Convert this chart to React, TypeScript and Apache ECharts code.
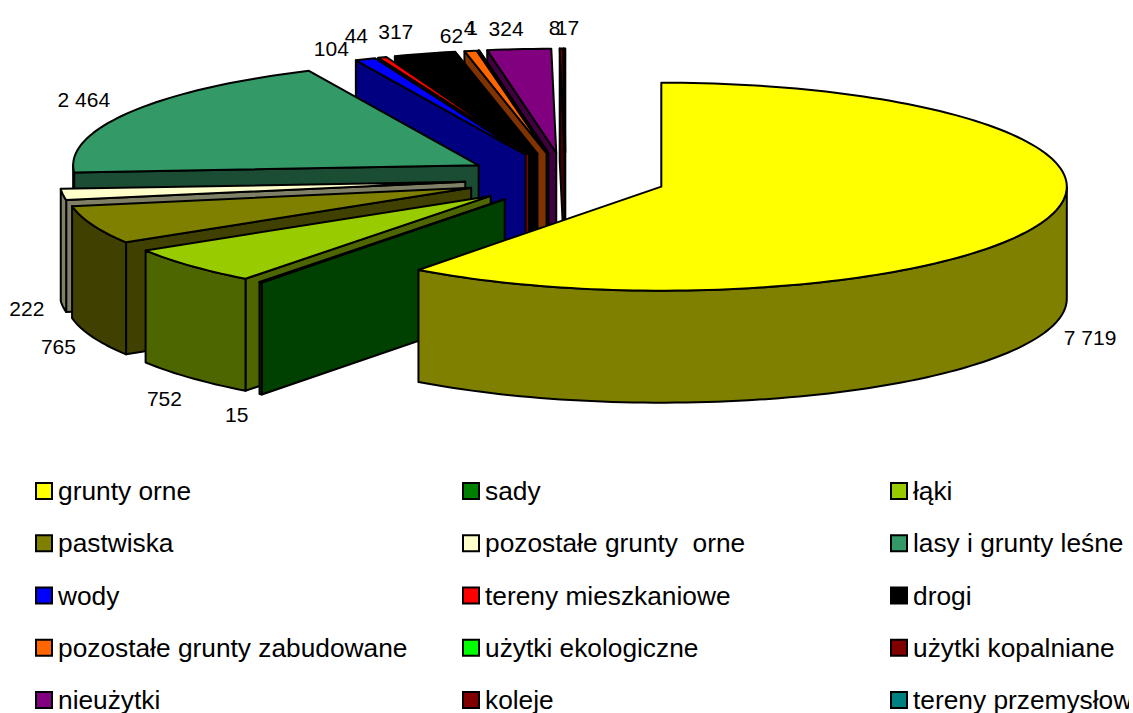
import React, { useEffect, useRef } from "react";
import * as echarts from "echarts";

const categories = [
  "grunty orne", "sady", "łąki", "pastwiska", "pozostałe grunty  orne",
  "lasy i grunty leśne", "wody", "tereny mieszkaniowe", "drogi",
  "pozostałe grunty zabudowane", "użytki ekologiczne", "użytki kopalniane",
  "nieużytki", "koleje", "tereny przemysłowe",
];
const values = [7719, 15, 752, 765, 222, 2464, 104, 44, 317, 62, 4, 1, 324, 17, 8];
const topColors = [
  "#FFFF00", "#008000", "#99CC00", "#808000", "#FFFFCC", "#339966", "#0000FF", "#FF0000",
  "#000000", "#FF6600", "#00FF00", "#800000", "#800080", "#800000", "#008080",
];
const sideColors = [
  "#808000", "#004000", "#4D6600", "#404000", "#808066", "#1A4D33", "#000080", "#800000",
  "#000000", "#803300", "#008000", "#400000", "#400040", "#400000", "#004040",
];
// Label offset from the slice's rim anchor, in pixels
const labelOffsets: number[][] = [
  [44, 6], [-24, 20], [-26, 21], [-34, 10], [-36, 2], [-46, -13], [-34, -11], [-26, -22],
  [-29, -22], [-19, -15], [-9, -23], [-7, -23], [-13, -21], [6, -21], [-10, -21],
];

const CX = 565.5, CY = 178.5, RX = 405.5, RY = 104, DEPTH = 112, EXPLODE = 0.249;
const STROKE = { stroke: "#000", lineWidth: 2, lineJoin: "round" as const };
const total = values.reduce((a, b) => a + b, 0);
const rad = (d: number) => (d * Math.PI) / 180;
const fmt = (v: number) => String(v).replace(/\B(?=(\d{3})+$)/g, " ");

function arc(ax: number, ay: number, from: number, to: number, dy = 0) {
  const n = Math.max(1, Math.ceil((to - from) / 1.5));
  const pts: number[][] = [];
  for (let k = 0; k <= n; k++) {
    const a = rad(from + ((to - from) * k) / n);
    pts.push([ax + RX * Math.sin(a), ay - RY * Math.cos(a) + dy]);
  }
  return pts;
}

function sliceElement(index: number) {
  const before = values.slice(0, index).reduce((a, b) => a + b, 0);
  const s = (before / total) * 360;
  const t = ((before + values[index]) / total) * 360;
  const mid = rad((s + t) / 2);
  const ax = CX + EXPLODE * RX * Math.sin(mid);
  const ay = CY - EXPLODE * RY * Math.cos(mid);
  const children: any[] = [];
  const side = sideColors[index];
  const wall = (deg: number) => {
    const [p] = arc(ax, ay, deg, deg);
    children.push({
      type: "polygon",
      shape: { points: [[ax, ay], p, [p[0], p[1] + DEPTH], [ax, ay + DEPTH]] },
      style: { fill: side, ...STROKE },
    });
  };
  if (s > 180 && s < 360) wall(s);
  if (t > 0 && t < 180) wall(t);
  const f0 = Math.max(s, 90), f1 = Math.min(t, 270);
  if (f1 > f0) {
    const upper = arc(ax, ay, f0, f1);
    const lower = arc(ax, ay, f0, f1, DEPTH).reverse();
    children.push({
      type: "polygon",
      shape: { points: [...upper, ...lower] },
      style: { fill: side, ...STROKE },
    });
  }
  children.push({
    type: "polygon",
    shape: { points: [[ax, ay], ...arc(ax, ay, s, t)] },
    style: { fill: topColors[index], ...STROKE },
  });
  const rimX = ax + RX * Math.sin(mid);
  const rimY = ay - RY * Math.cos(mid) + (Math.cos(mid) < 0 ? DEPTH : 0);
  children.push({
    type: "text",
    style: {
      x: rimX + labelOffsets[index][0],
      y: rimY + labelOffsets[index][1],
      text: fmt(values[index]),
      fill: "#000",
      fontFamily: "Liberation Sans",
      fontSize: 21,
      align: "center",
      verticalAlign: "middle",
    },
  });
  return { type: "group", children };
}

const legendColumns = [35, 462, 890];
const legendRows = [491, 543.2, 595.5, 647.7, 700];

export default function App() {
  const ref = useRef<HTMLDivElement>(null);
  useEffect(() => {
    document.body.style.margin = "0";
    document.body.style.background = "#fff";
    const chart = echarts.init(ref.current!, undefined, { renderer: "svg" });
    chart.setOption({
      animation: false,
      backgroundColor: "#fff",
      legend: categories.map((name, i) => ({
        data: [name],
        left: legendColumns[i % 3],
        top: legendRows[Math.floor(i / 3)] - 15,
        padding: 0,
        icon: "rect",
        itemWidth: 16,
        itemHeight: 16,
        selectedMode: false,
        itemStyle: { borderColor: "#000", borderWidth: 2 },
        textStyle: {
          fontFamily: "Liberation Sans",
          fontSize: 26.3,
          color: "#000",
          lineHeight: 30,
          padding: [0, 0, 0, 1],
        },
      })),
      series: categories
        .map((name, i) => ({
          type: "custom",
          name,
          coordinateSystem: "none",
          data: [values[i]],
          silent: true,
          clip: false,
          itemStyle: { color: topColors[i] },
          renderItem: () => sliceElement(i),
        }))
        .reverse(),
    });
    return () => chart.dispose();
  }, []);
  return <div ref={ref} style={{ width: 1129, height: 713 }} />;
}
